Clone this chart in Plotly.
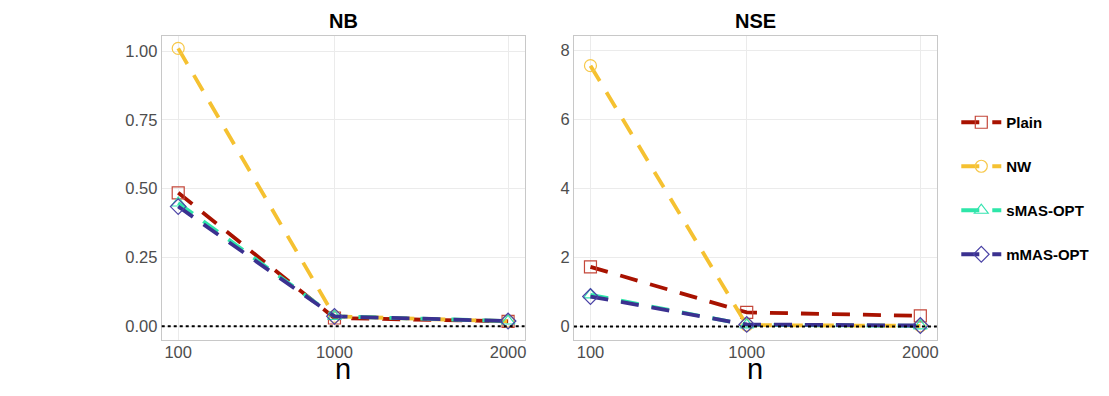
import plotly.graph_objects as go
from plotly.subplots import make_subplots

n_vals = [100, 1000, 2000]
methods = ["Plain", "NW", "sMAS-OPT", "mMAS-OPT"]

nb_plain = [0.485, 0.030, 0.018]
nb_nw = [1.010, 0.036, 0.018]
nb_smas = [0.448, 0.036, 0.019]
nb_mmas = [0.435, 0.036, 0.019]

nse_plain = [1.73, 0.41, 0.31]
nse_nw = [7.56, 0.04, 0.02]
nse_smas = [0.92, 0.05, 0.02]
nse_mmas = [0.87, 0.06, 0.03]

line_colors = ["#A81200", "#F5C131", "#2EE6A9", "#3B3190"]
marker_colors = ["#C4473A", "#F7C84A", "#35E3B0", "#4B43A6"]
symbols = ["square-open", "circle-open", "triangle-up-open", "diamond-open"]

W, H = 1109, 396
OFF = 8  # page body margin
FONT = "Liberation Sans, Arial, sans-serif"


def px(x):
    return (x - OFF) / W


def py(y):
    return (H - (y - OFF)) / H


def main():
    fig = make_subplots(rows=1, cols=2)
    panels = [
        (1, [nb_plain, nb_nw, nb_smas, nb_mmas]),
        (2, [nse_plain, nse_nw, nse_smas, nse_mmas]),
    ]
    for col, series in panels:
        for i, (name, ys) in enumerate(zip(methods, series)):
            fig.add_trace(go.Scatter(
                x=n_vals, y=ys, name=name, mode="lines+markers",
                legendgroup=name, showlegend=(col == 1),
                line=dict(color=line_colors[i], width=3.8, dash="18px,13px"),
                marker=dict(symbol=symbols[i], size=12, color=marker_colors[i],
                            line=dict(width=1.2, color=marker_colors[i])),
            ), row=1, col=col)
        fig.add_hline(y=0, line=dict(color="black", width=2, dash="dot"), row=1, col=col)

    ydom = [py(340), py(36)]
    axis_common = dict(
        showline=True, mirror=True, linecolor="#C8C8C8", linewidth=1,
        showgrid=True, gridcolor="#EBEBEB", gridwidth=1, zeroline=False,
        ticks="",
        tickfont=dict(family=FONT, size=16.5, color="#4D4D4D"),
    )
    fig.update_xaxes(**axis_common, range=[5, 2095], tickvals=n_vals, ticklabelstandoff=-3)
    fig.update_yaxes(**axis_common)
    fig.update_layout(
        xaxis=dict(domain=[px(162), px(525.5)]),
        xaxis2=dict(domain=[px(575), px(938.5)]),
        yaxis=dict(domain=ydom, range=[-0.05, 1.055], tickvals=[0, 0.25, 0.5, 0.75, 1.0], tickformat=".2f"),
        yaxis2=dict(domain=ydom, range=[-0.39, 8.42], tickvals=[0, 2, 4, 6, 8]),
    )

    for label, xc in [("NB", (162 + 525.5) / 2), ("NSE", (575 + 938.5) / 2)]:
        fig.add_annotation(text="<b>%s</b>" % label, x=px(xc), y=py(21.5), xref="paper", yref="paper",
                           xanchor="center", yanchor="middle", showarrow=False,
                           font=dict(family=FONT, size=20, color="black"))
        fig.add_annotation(text="n", x=px(xc), y=py(369), xref="paper", yref="paper",
                           xanchor="center", yanchor="middle", showarrow=False,
                           font=dict(family=FONT, size=29, color="black"))

    fig.update_layout(
        width=W, height=H,
        margin=dict(l=0, r=0, t=0, b=0),
        paper_bgcolor="white", plot_bgcolor="white",
        font=dict(family=FONT),
        legend=dict(
            x=px(958), y=py(106), xanchor="left", yanchor="top",
            font=dict(family=FONT, size=15, color="black", weight="bold"),
            tracegroupgap=21.5, itemwidth=40, bgcolor="rgba(0,0,0,0)",
        ),
    )
    fig.write_html("out.html")


if __name__ == "__main__":
    main()
